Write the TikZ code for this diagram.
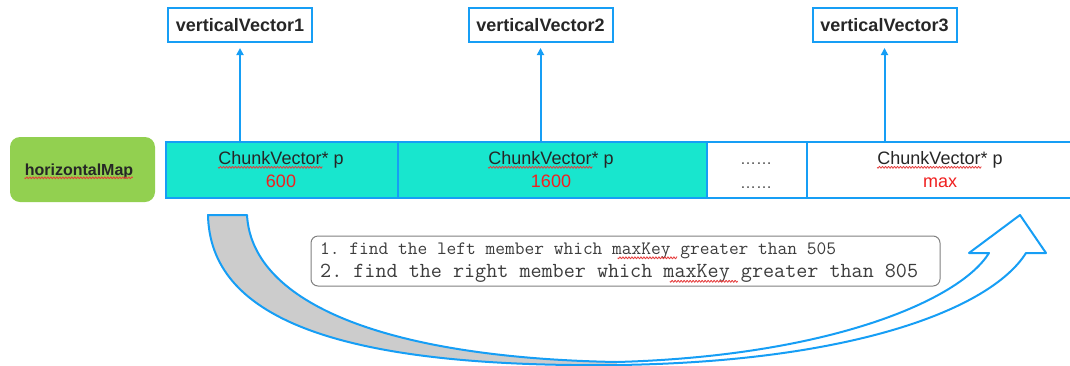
\documentclass[tikz,border=0pt]{standalone}
\usepackage{fontspec}
\setmainfont{Liberation Sans}
\usetikzlibrary{arrows.meta}

\definecolor{lineblue}{RGB}{22,158,245}
\definecolor{cellcyan}{RGB}{24,230,206}
\definecolor{mapgreen}{RGB}{146,208,80}
\definecolor{numred}{RGB}{240,32,32}
\definecolor{monogray}{RGB}{60,60,60}
\definecolor{boxgray}{RGB}{128,128,128}
\definecolor{bandgray}{RGB}{204,204,204}
\definecolor{spellred}{RGB}{230,60,60}

\newcommand\cvfont{\fontsize{18}{21}\selectfont}
\newcommand\hmfont{\fontsize{16}{19}\selectfont\bfseries}
\newcommand\monoAfont{\fontsize{18.9}{22}\selectfont\ttfamily\frenchspacing}
\newcommand\monoBfont{\fontsize{21.5}{25}\selectfont\ttfamily\frenchspacing}
% red spell-check squiggle: start point, length
\newcommand\squiggle[2]{%
  \draw[spellred,line width=0.8pt,shift={(#1)}]
    plot[domain=0:#2,samples=180,smooth] (\x,{2.8+0.9*sin(\x*120)});}

\begin{document}
\begin{tikzpicture}[x=1pt,y=-1pt,
  cell/.style={draw=lineblue,line width=2pt,minimum height=56pt,inner sep=0pt,anchor=north west},
  cvtext/.style={inner sep=0pt,anchor=base,font=\cvfont,text=black!85},
  num/.style={inner sep=0pt,anchor=base,font=\cvfont,text=numred},
  dots/.style={inner sep=0pt,anchor=base,font=\fontsize{16}{19}\selectfont,text=black!70},
  vbox/.style={draw=lineblue,line width=2pt,minimum width=144pt,minimum height=34pt,inner sep=0pt,
    font=\fontsize{18}{21}\selectfont\bfseries,text=black!85},
  mapbox/.style={fill=mapgreen,rounded corners=10pt,minimum width=145pt,minimum height=65pt,inner sep=0pt},
  uparrow/.style={draw=lineblue,line width=2pt,-{Triangle[width=7pt,length=7pt]},shorten >=5pt},
  notebox/.style={draw=boxgray,line width=1pt,rounded corners=7pt,minimum width=629pt,minimum height=50pt,inner sep=0pt},
  monoA/.style={inner sep=0pt,anchor=base west,font=\monoAfont,text=monogray},
  monoB/.style={inner sep=0pt,anchor=base west,font=\monoBfont,text=monogray},
  band/.style={draw=lineblue,line width=2pt,line join=round}
]
\useasboundingbox (0,0) rectangle (1070,365);

% left label
\node[mapbox] (hm) at (82.5,169.5) {};
\node[inner sep=0pt,anchor=base,font=\hmfont,text=black!85] (hmt) at (79,175) {horizontalMap};
\squiggle{hmt.base west}{108}

% row of chunk cells
\node[cell,fill=cellcyan,minimum width=232pt] (c1) at (165,141) {};
\node[cell,fill=cellcyan,minimum width=309pt] (c2) at (397,141) {};
\node[cell,fill=white,minimum width=100pt] (c3) at (706,141) {};
\node[cell,fill=white,minimum width=268pt] (c4) at (806,141) {};

\node[cvtext] (t1) at (281,164.5) {ChunkVector* p};
\node[num] (n1) at (281,187.5) {600};
\node[cvtext] (t2) at (551,164.5) {ChunkVector* p};
\node[num] (n2) at (551,187.5) {1600};
\node[dots] (d1) at (756,164) {……};
\node[dots] (d2) at (756,188) {……};
\node[cvtext] (t4) at (940,164.5) {ChunkVector* p};
\node[num] (n4) at (940,187.5) {max};
\squiggle{t1.base west}{104}
\squiggle{t2.base west}{104}
\squiggle{t4.base west}{104}

% vertical vectors
\node[vbox] (v1) at (240,25) {verticalVector1};
\node[vbox] (v2) at (540.5,25) {verticalVector2};
\node[vbox] (v3) at (884.5,25) {verticalVector3};
\draw[uparrow] (v1.south |- c1.north) -- (v1.south);
\draw[uparrow] (v2.south |- c2.north) -- (v2.south);
\draw[uparrow] (v3.south |- c4.north) -- (v3.south);

% sweeping arrow under the row
\fill[bandgray] (208,215) .. controls (210,315) and (330,368) .. (617,365)
  -- (617,362) .. controls (390,358) and (252,305) .. (247,215) -- cycle;
\fill[white] (617,365) .. controls (850,362) and (990,310) .. (1026,253)
  -- (1046,253) -- (1020,215) -- (969,253) -- (989,253)
  .. controls (960,300) and (830,356) .. (617,362) -- cycle;
\draw[band] (208,215) .. controls (210,315) and (330,368) .. (617,365)
  .. controls (850,362) and (990,310) .. (1026,253)
  -- (1046,253) -- (1020,215) -- (969,253) -- (989,253)
  .. controls (960,300) and (830,356) .. (617,362)
  .. controls (390,358) and (252,305) .. (247,215) -- cycle;

% search steps
\node[notebox,fill=white] (note) at (625.5,261) {};
\node[monoA] (m1) at (320,254) {1. find the left member which maxKey greater than 505};
\node[monoB] (m2) at (320,277) {2. find the right member which maxKey greater than 805};
% maxKey starts after 30 / 31 monospaced characters (0.525em each)
\squiggle{[xshift=297.7pt,yshift=-1pt]m1.base west}{59.5}
\squiggle{[xshift=349.9pt,yshift=-1.5pt]m2.base west}{67.7}
\end{tikzpicture}
\end{document}
